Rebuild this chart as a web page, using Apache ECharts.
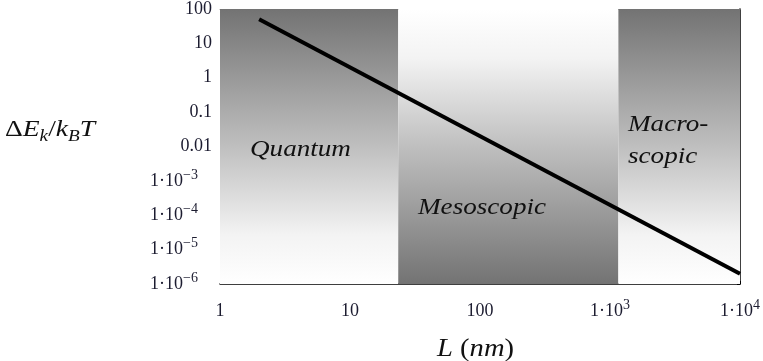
<!DOCTYPE html>
<html>
<head>
<meta charset="utf-8">
<script src="https://cdn.jsdelivr.net/npm/echarts@6/dist/echarts.min.js"></script>
<style>
html,body{margin:0;padding:0;background:#fff;}
#chart{width:763px;height:361px;}
</style>
</head>
<body>
<div id="chart"></div>
<script>
// ---- data ----
var lineLength = [2, 10000];          // L (nm)
var lineEnergy = [50, 2e-6];          // ΔE_k / k_B T
var xRange = [1, 10000];
var yRange = [1e-6, 100];
var regionNames = ['Quantum', 'Mesoscopic', 'Macroscopic'];
var regionBounds = [[1, 23.5], [23.5, 1160], [1160, 10000]];

var chart = echarts.init(document.getElementById('chart'));
var serif = 'Liberation Serif';
var tickColor = '#1c1c30';

function fmt(v) {
  var e = Math.round(Math.log10(v));
  if (v >= 0.01 && v <= 100) {
    var s = e >= 0 ? String(Math.round(v)) : v.toFixed(-e);
    return '{b|' + s + '}';
  }
  return '{b|1·10}{s|' + (e < 0 ? '−' + (-e) : e) + '}';
}
function fmtY(v) {
  var t = fmt(v);
  if (t.indexOf('{s|') >= 0) t += '{p|}';
  return t;
}
var rich = {
  b: {fontFamily: serif, fontSize: 18, color: tickColor, lineHeight: 26},
  s: {fontFamily: serif, fontSize: 14, color: tickColor, lineHeight: 12, verticalAlign: 'top'},
  p: {width: 14}
};

function grad(topDark) {
  var stops = [
    {offset: 0, color: '#737373'},
    {offset: 0.5, color: '#bfbfbf'},
    {offset: 0.82, color: '#f3f3f3'},
    {offset: 1, color: '#ffffff'}
  ];
  if (!topDark) {
    stops = stops.map(function (s) { return {offset: 1 - s.offset, color: s.color}; }).reverse();
  }
  return new echarts.graphic.LinearGradient(0, 0, 0, 1, stops);
}

var areas = regionBounds.map(function (b, i) {
  return [
    {xAxis: b[0], yAxis: yRange[1], itemStyle: {color: grad(i !== 1)}},
    {xAxis: b[1], yAxis: yRange[0]}
  ];
});

var lineData = lineLength.map(function (x, i) { return [x, lineEnergy[i]]; });

function txt(x, y, text, rich, sx) {
  return {
    type: 'text', x: x, y: y, scaleX: sx || 1.2, z: 10,
    style: {rich: rich, text: text, fontFamily: serif, fill: '#111', verticalAlign: 'middle', align: 'left'}
  };
}
var italic24 = {i: {fontStyle: 'italic', fontSize: 24, fontFamily: serif, fill: '#111'}};

var option = {
  animation: false,
  backgroundColor: '#fff',
  textStyle: {fontFamily: serif},
  grid: {left: 220, right: 23, top: 9, bottom: 77},
  xAxis: [{
    type: 'log', logBase: 10, min: xRange[0], max: xRange[1], position: 'bottom',
    axisLine: {show: true, lineStyle: {color: '#000', width: 1.5}},
    axisTick: {show: true, inside: true, length: 3, lineStyle: {color: '#000'}},
    minorTick: {show: false},
    splitLine: {show: false},
    axisLabel: {formatter: fmt, rich: rich, margin: 14, color: tickColor, fontFamily: serif}
  }, {
    type: 'log', logBase: 10, min: xRange[0], max: xRange[1], position: 'top',
    axisLine: {show: true, lineStyle: {color: '#999', width: 1}},
    axisTick: {show: false}, axisLabel: {show: false}, splitLine: {show: false}
  }],
  yAxis: [{
    type: 'log', logBase: 10, min: yRange[0], max: yRange[1], position: 'left',
    axisLine: {show: false}, axisTick: {show: false}, splitLine: {show: false},
    axisLabel: {formatter: fmtY, rich: rich, margin: 8, color: tickColor, align: 'right', fontFamily: serif}
  }, {
    type: 'log', logBase: 10, min: yRange[0], max: yRange[1], position: 'right',
    axisLine: {show: true, lineStyle: {color: '#000', width: 1.5}},
    axisTick: {show: true, inside: true, length: 3, lineStyle: {color: '#000'}},
    axisLabel: {show: false}, splitLine: {show: false}
  }],
  series: [{
    type: 'line', data: [], z: 1,
    markArea: {silent: true, z: 1, label: {show: false}, data: areas}
  }, {
    type: 'line', data: lineData, z: 5, showSymbol: false, symbol: 'none',
    lineStyle: {color: '#000', width: 4}
  }],
  graphic: [
    txt(250, 150, '{i|Quantum}', italic24, 1.13),
    txt(418, 208, '{i|Mesoscopic}', italic24, 1.13),
    txt(628, 125, '{i|Macro-}', italic24, 1.13),
    txt(628, 157, '{i|scopic}', italic24, 1.13),
    txt(5, 130, '{u|Δ}{i|E}{sub|k}{u|/}{i|k}{sub|B}{i|T}', {
        u: {fontSize: 23, fontFamily: serif, fill: '#111', lineHeight: 30},
        i: {fontSize: 23, fontFamily: serif, fontStyle: 'italic', fill: '#111', lineHeight: 30},
        sub: {fontSize: 16, fontFamily: serif, fontStyle: 'italic', fill: '#111', lineHeight: 14, verticalAlign: 'bottom'}
      }, 1.2),
    txt(437, 349, '{i|L}{u| (}{i|nm}{u|)}', {
        u: {fontSize: 26, fontFamily: serif, fill: '#111'},
        i: {fontSize: 26, fontFamily: serif, fontStyle: 'italic', fill: '#111'}
      }, 1.1)
  ]
};
chart.setOption(option);
</script>
</body>
</html>
